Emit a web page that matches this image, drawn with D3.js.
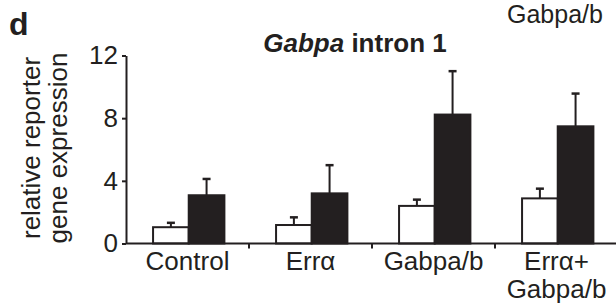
<!DOCTYPE html>
<html>
<head>
<meta charset="utf-8">
<script src="https://cdn.jsdelivr.net/npm/d3@7"></script>
<style>
  body { margin: 0; background: #fff; overflow: hidden; }
  text { font-family: "Liberation Sans", Arial, sans-serif; fill: #231f20; }
</style>
</head>
<body>
<script>
// data
var categories = ["Control", "Errα", "Gabpa/b", "Errα+Gabpa/b"];
var categoryLines = [["Control"], ["Errα"], ["Gabpa/b"], ["Errα+", "Gabpa/b"]];
var series = ["open", "filled"];
var openValues = [1.04, 1.18, 2.4, 2.88];
var openErrors = [0.28, 0.49, 0.4, 0.62];
var filledValues = [3.08, 3.2, 8.23, 7.48];
var filledErrors = [1.04, 1.8, 2.77, 2.09];
var yTicks = [0, 4, 8, 12];

var ink = "#231f20";

var svg = d3.select("body").append("svg")
    .attr("width", 616)
    .attr("height", 308);

//scales
var x0 = d3.scaleBand()
    .domain(categories)
    .range([126, 618]);

var x1 = d3.scaleBand()
    .domain(series)
    .range([x0.bandwidth() * 0.22, x0.bandwidth() * 0.8]);

var y = d3.scaleLinear()
    .domain([0, 12])
    .range([243.5, 55.5]);

//rows for the bars
var rows = [];
categories.forEach(function(c, i) {
    rows.push({cat: c, s: "open", v: openValues[i], e: openErrors[i]});
    rows.push({cat: c, s: "filled", v: filledValues[i], e: filledErrors[i]});
});

//error bars first so bars sit on top of their base
var eb = svg.append("g").selectAll("g")
    .data(rows)
    .enter().append("g")
    .attr("transform", function(d) {
        return "translate(" + (x0(d.cat) + x1(d.s) + x1.bandwidth() / 2) + ",0)";
    });

eb.append("line")
    .attr("x1", 0).attr("x2", 0)
    .attr("y1", function(d) { return y(d.v); })
    .attr("y2", function(d) { return y(d.v + d.e); })
    .attr("stroke", ink)
    .attr("stroke-width", 2);

eb.append("line")
    .attr("x1", -4).attr("x2", 4)
    .attr("y1", function(d) { return y(d.v + d.e); })
    .attr("y2", function(d) { return y(d.v + d.e); })
    .attr("stroke", ink)
    .attr("stroke-width", 2.5);

//bars
svg.append("g").selectAll("rect")
    .data(rows)
    .enter().append("rect")
    .attr("x", function(d) { return x0(d.cat) + x1(d.s); })
    .attr("y", function(d) { return y(d.v); })
    .attr("width", x1.bandwidth())
    .attr("height", function(d) { return y(0) - y(d.v); })
    .attr("fill", function(d) { return d.s == "open" ? "#fff" : ink; })
    .attr("stroke", ink)
    .attr("stroke-width", 2);

//y axis
var yAxis = svg.append("g")
    .attr("transform", "translate(126,0)")
    .call(d3.axisLeft(y).tickValues(yTicks).tickSize(4).tickPadding(4).tickSizeOuter(0));

yAxis.select(".domain").attr("stroke", ink).attr("stroke-width", 2);
yAxis.selectAll(".tick line").attr("stroke", ink).attr("stroke-width", 2);
yAxis.selectAll(".tick text")
    .attr("font-size", 26)
    .attr("fill", ink)
    .style("font-family", '"Liberation Sans", Arial, sans-serif');

//x axis
svg.append("line")
    .attr("x1", 126).attr("x2", 618)
    .attr("y1", y(0)).attr("y2", y(0))
    .attr("stroke", ink)
    .attr("stroke-width", 2);

svg.append("g").selectAll("line")
    .data(categories.slice(1))
    .enter().append("line")
    .attr("x1", function(d) { return x0(d); })
    .attr("x2", function(d) { return x0(d); })
    .attr("y1", y(0))
    .attr("y2", y(0) + 5)
    .attr("stroke", ink)
    .attr("stroke-width", 2);

var labels = svg.append("g").selectAll("text")
    .data(categories)
    .enter().append("text")
    .attr("text-anchor", "middle")
    .attr("font-size", 26)
    .attr("transform", function(d) {
        return "translate(" + (x0(d) + x0.bandwidth() / 2) + ",270)";
    });

labels.selectAll("tspan")
    .data(function(d, i) { return categoryLines[i]; })
    .enter().append("tspan")
    .attr("x", 0)
    .attr("y", function(d, i) { return i * 27.5; })
    .text(function(d) { return d; });

//y label
var yl = svg.append("text")
    .attr("transform", "translate(40,148) rotate(-90)")
    .attr("text-anchor", "middle")
    .attr("font-size", 26);
yl.append("tspan").attr("x", 0).attr("y", 0).text("relative reporter");
yl.append("tspan").attr("x", 0).attr("y", 27).text("gene expression");

//title
var title = svg.append("text")
    .attr("x", 355)
    .attr("y", 52)
    .attr("text-anchor", "middle")
    .attr("font-size", 26)
    .attr("font-weight", "bold");
title.append("tspan").attr("font-style", "italic").text("Gabpa");
title.append("tspan").text(" intron 1");

//panel letter
svg.append("text")
    .attr("x", 9)
    .attr("y", 35)
    .attr("font-size", 32)
    .attr("font-weight", "bold")
    .text("d");

//header in the top right corner
svg.append("text")
    .attr("x", 507)
    .attr("y", 23)
    .attr("font-size", 25)
    .text("Gabpa/b");
</script>
</body>
</html>
